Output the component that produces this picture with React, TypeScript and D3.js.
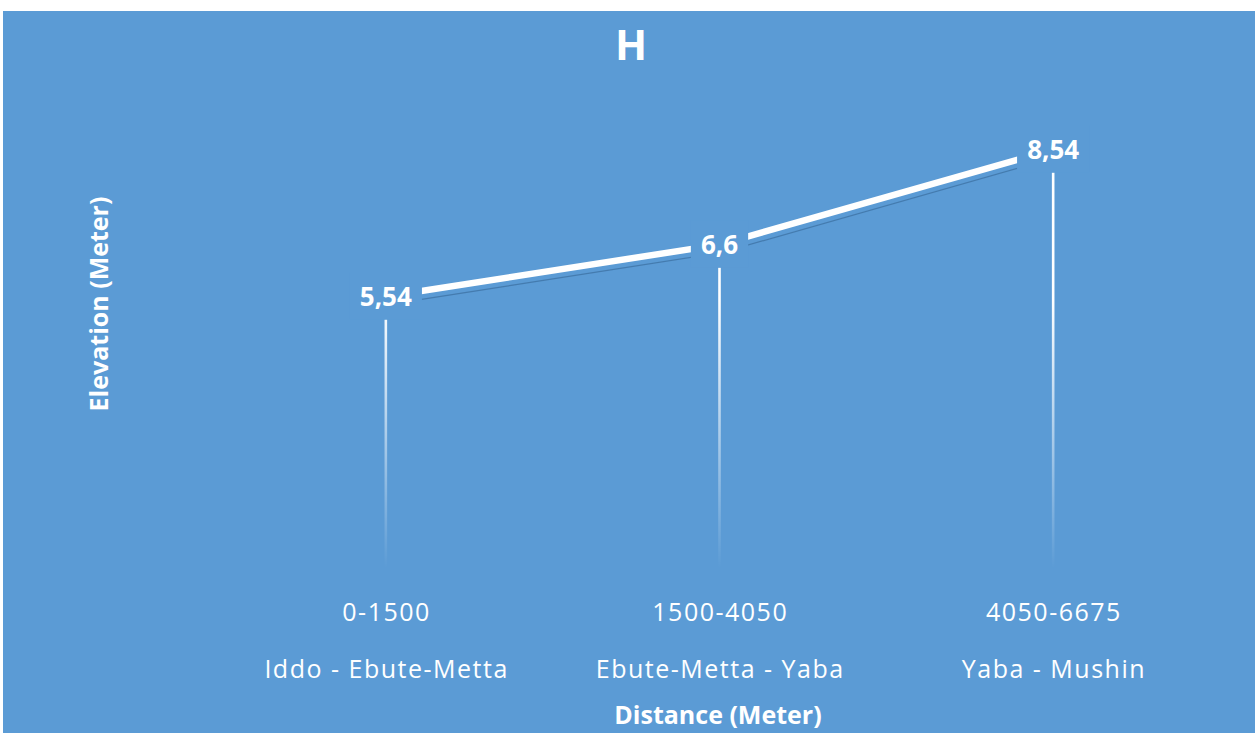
import React from 'react';
import * as d3 from 'd3';

// chart data
const ranges = ['0-1500', '1500-4050', '4050-6675'];
const segments = ['Iddo - Ebute-Metta', 'Ebute-Metta - Yaba', 'Yaba - Mushin'];
const elevation = [5.54, 6.6, 8.54];
const valueLabels = ['5,54', '6,6', '8,54'];

const W = 1255;
const H = 733;
const BG = '#5B9BD5';
const FONT = '"Open Sans", sans-serif';

// rough width of bold 26px label text (Open Sans)
const labelWidth = (s: string) =>
  s.split('').reduce((acc, c) => acc + (c === ',' ? 7.5 : 14.9), 0);

export default function App() {
  const x = d3.scalePoint<string>().domain(ranges).range([219, 1220]).padding(0.5);
  const y = d3.scaleLinear().domain([0, 10]).range([568, 78]);

  const pts: [number, number][] = elevation.map((v, i) => [x(ranges[i]) as number, y(v)]);
  const line = d3.line<[number, number]>().x((d) => d[0]).y((d) => d[1]);
  const path = line(pts) || '';

  return (
    <svg
      width={W}
      height={H}
      style={{position: 'absolute', left: 0, top: 0}}
      fontFamily={FONT}
    >
      <defs>
        <linearGradient id="drop-grad" gradientUnits="userSpaceOnUse" x1={0} y1={300} x2={0} y2={y(0)}>
          <stop offset="0%" stopColor="#fff" stopOpacity={1} />
          <stop offset="100%" stopColor="#fff" stopOpacity={0} />
        </linearGradient>
      </defs>
      <rect x={0} y={0} width={W} height={H} fill="#fff" />
      <rect x={3} y={11} width={W - 3} height={H - 11} fill={BG} />

      {/* title */}
      <text x={631} y={60} textAnchor="middle" fill="#fff" fontSize={42} fontWeight="bold">
        H
      </text>

      {/* drop lines */}
      {pts.map(([px, py], i) => (
        <rect
          key={'drop' + i}
          x={px - 1.3}
          y={py + 23}
          width={2.6}
          height={y(0) - py - 23}
          fill="url(#drop-grad)"
        />
      ))}

      {/* line shadow + line */}
      <path
        d={path}
        transform="translate(2,8)"
        fill="none"
        stroke="#3b6d9e"
        strokeOpacity={0.7}
        strokeWidth={1.2}
      />
      <path d={path} fill="none" stroke="#fff" strokeWidth={6.5} />

      {/* data labels */}
      {pts.map(([px, py], i) => {
        const w = labelWidth(valueLabels[i]) + 20;
        return (
          <g key={'lbl' + i}>
            <rect x={px - w / 2} y={py - 24} width={w} height={47} fill={BG} />
            <text
              x={px}
              y={py + 9.5}
              textAnchor="middle"
              fill="#fff"
              fontSize={26}
              fontWeight="bold"
            >
              {valueLabels[i]}
            </text>
          </g>
        );
      })}

      {/* category labels */}
      {ranges.map((r, i) => (
        <g key={'cat' + i} fill="#fff" fontSize={25} textAnchor="middle" letterSpacing={1.5}>
          <text x={(x(r) as number) + 0.75} y={621}>
            {r}
          </text>
          <text x={(x(r) as number) + 0.75} y={678}>
            {segments[i]}
          </text>
        </g>
      ))}

      {/* axis titles */}
      <text x={718} y={724} textAnchor="middle" fill="#fff" fontSize={25} fontWeight="bold">
        Distance (Meter)
      </text>
      <text
        transform="translate(108,304) rotate(-90)"
        textAnchor="middle"
        fill="#fff"
        fontSize={25}
        fontWeight="bold"
      >
        Elevation (Meter)
      </text>
    </svg>
  );
}
